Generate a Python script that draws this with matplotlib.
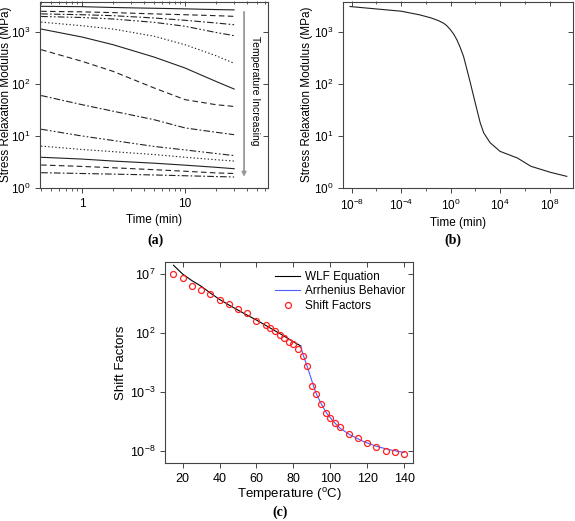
import numpy as np
import matplotlib
matplotlib.use("Agg")
import matplotlib.pyplot as plt
from matplotlib.ticker import LogLocator, NullLocator, FixedLocator, NullFormatter, FixedFormatter

plt.rcParams['font.family'] = ['Liberation Sans', 'DejaVu Sans']
plt.rcParams['mathtext.fontset'] = 'custom'
plt.rcParams['mathtext.rm'] = 'Liberation Sans'
plt.rcParams['mathtext.it'] = 'Liberation Sans'

# ---------------- Panel (a) data ----------------
time_a = [0.4, 1, 2, 5, 10, 20, 30]
modulus_curves = [
    [3120, 3070, 2960, 2860, 2790, 2700, 2660],
    [2500, 2440, 2360, 2230, 2150, 2060, 2000],
    [2230, 2150, 2060, 1860, 1680, 1490, 1380],
    [1990, 1900, 1780, 1535, 1290, 980, 850],
    [1550, 1320, 1140, 830, 570, 350, 250],
    [1140, 800, 570, 330, 203, 112, 80],
    [457, 273, 175, 84, 50, 40, 37],
    [60, 40, 30, 20.6, 14.3, 11.8, 10.6],
    [13.5, 10, 8.2, 6.3, 5.4, 4.6, 4.2],
    [6.4, 5.5, 5.0, 4.4, 3.9, 3.5, 3.3],
    [3.9, 3.6, 3.3, 3.0, 2.75, 2.5, 2.35],
    [2.77, 2.6, 2.45, 2.25, 2.1, 1.95, 1.9],
    [1.97, 1.9, 1.85, 1.78, 1.72, 1.66, 1.63],
]
line_styles = ['-', (0, (5, 3)), (0, (6, 2, 1.5, 2)), (0, (6, 2, 1.5, 2, 1.5, 2)), (0, (1.2, 2))]

# ---------------- Panel (b) data (master curve) ----------------
log_time_b = [-8.14, -4.0, -2.5, -1.57, -1.0, -0.57, -0.3, 0.0, 0.25, 0.51, 0.75, 1.05, 1.3, 1.6, 2.0,
              2.4, 2.68, 3.2, 4.0, 5.4, 6.5, 8.1, 9.4]
log_mod_b = [3.49, 3.40, 3.33, 3.27, 3.22, 3.17, 3.12, 3.04, 2.96, 2.85, 2.72, 2.53, 2.3, 2.02, 1.63,
             1.25, 1.06, 0.87, 0.705, 0.577, 0.417, 0.30, 0.224]

# ---------------- Panel (c) data ----------------
temp_sf = [15, 20, 25, 30, 35, 40, 45, 50, 55, 60, 65, 67.5, 70, 72.5, 75, 77.5, 80, 82.5,
           85, 87.5, 90, 92.5, 95, 97.5, 100, 102.5, 105, 110, 115, 120, 125, 130, 135, 140]
log_sf = [7.0, 6.6, 5.99, 5.65, 5.29, 4.75, 4.44, 4.0, 3.63, 3.01, 2.62, 2.37, 2.17, 1.83, 1.52, 1.21, 1.02, 0.62,
          0.0, -0.78, -2.47, -3.17, -3.98, -4.74, -5.19, -5.64, -5.92, -6.51, -6.93, -7.33, -7.69, -8.0, -8.06, -8.22]
temp_wlf = [15, 20, 25, 30, 35, 40, 45, 50, 55, 60, 65, 70, 75, 80, 84]
log_wlf = [7.7, 6.95, 6.4, 5.93, 5.35, 4.81, 4.35, 3.91, 3.48, 3.07, 2.62, 2.17, 1.71, 1.24, 0.88]
temp_arr = [84, 85, 87.2, 89.3, 91, 92.7, 95.4, 98.1, 101.7, 105.3, 110.7, 118, 125.2, 132.4, 140]
log_arr = [0.88, 0.26, -0.72, -1.71, -2.55, -3.25, -4.1, -4.8, -5.5, -6.06, -6.62, -7.19, -7.6, -7.89, -8.11]

W, H = 575, 521
fig = plt.figure(figsize=(W / 100, H / 100), dpi=100)

spine_col = '#444444'
tick_fs = 8.5
label_fs = 8.5


def style_axes(ax):
    for s in ax.spines.values():
        s.set_color(spine_col)
        s.set_linewidth(0.8)
    ax.tick_params(which='both', direction='out', colors=spine_col, labelcolor='black',
                   labelsize=tick_fs, top=False, right=False)
    ax.tick_params(which='major', length=3.5, width=0.7)
    ax.tick_params(which='minor', length=2, width=0.6)
    sec_x = ax.secondary_xaxis('top')
    sec_y = ax.secondary_yaxis('right')
    return sec_x, sec_y


def mirror_ticks(ax, sec_x, sec_y):
    for sec in (sec_x, sec_y):
        sec.tick_params(which='both', direction='in', colors=spine_col)
        sec.tick_params(which='major', length=3.5, width=0.7)
        sec.tick_params(which='minor', length=2, width=0.6)
        sec.spines[:].set_visible(False)
    sec_x.set_xticks(ax.get_xticks(minor=False))
    sec_x.set_xticks(ax.get_xticks(minor=True), minor=True)
    sec_x.set_xticklabels([])
    sec_x.xaxis.set_minor_formatter(NullFormatter())
    sec_y.set_yticks(ax.get_yticks(minor=False))
    sec_y.set_yticklabels([])
    sec_y.yaxis.set_minor_locator(NullLocator())


# ---- (a)
ax_a = fig.add_axes([40 / W, 1 - 188 / H, 228 / W, 186.5 / H])
for i, vals in enumerate(modulus_curves):
    ax_a.plot(time_a, vals, color='#222222', lw=0.8, linestyle=line_styles[i % 5])
ax_a.set_xscale('log')
ax_a.set_yscale('log')
ax_a.set_xlim(0.39, 64)
ax_a.set_ylim(1, 3860)
ax_a.xaxis.set_major_locator(FixedLocator([1, 10]))
ax_a.xaxis.set_major_formatter(FixedFormatter(['1', '10']))
ax_a.xaxis.set_minor_locator(LogLocator(base=10, subs=np.arange(2, 10)))
ax_a.xaxis.set_minor_formatter(NullFormatter())
ax_a.yaxis.set_major_locator(FixedLocator([1, 10, 100, 1000]))
ax_a.yaxis.set_major_formatter(FixedFormatter(
    [r'$10^{0}$', r'$10^{1}$', r'$10^{2}$', r'$10^{3}$']))
ax_a.yaxis.set_minor_locator(NullLocator())
sx, sy = style_axes(ax_a)
mirror_ticks(ax_a, sx, sy)
ax_a.set_xlabel('Time (min)', fontsize=label_fs, labelpad=3)
ax_a.set_ylabel('Stress Relaxation Modulus (MPa)', fontsize=label_fs)
ax_a.yaxis.set_label_coords(-0.122, 0.5)
ax_a.annotate('', xy=(0.895, 0.06), xytext=(0.895, 0.945), xycoords='axes fraction',
              arrowprops=dict(arrowstyle='-|>', color='#999999', lw=1.3,
                              mutation_scale=6, shrinkA=0, shrinkB=0))
ax_a.text(0.945, 0.52, 'Temperature Increasing', transform=ax_a.transAxes, rotation=-90,
          ha='center', va='center', fontsize=7.5)

# ---- (b)
ax_b = fig.add_axes([343 / W, 1 - 188 / H, 230 / W, 186.5 / H])
ax_b.plot([10 ** v for v in log_time_b], [10 ** v for v in log_mod_b], color='#222222', lw=0.8)
ax_b.set_xscale('log')
ax_b.set_yscale('log')
ax_b.set_xlim(10 ** -8.7, 10 ** 9.9)
ax_b.set_ylim(1, 3860)
ax_b.xaxis.set_major_locator(FixedLocator([1e-8, 1e-4, 1, 1e4, 1e8]))
ax_b.xaxis.set_major_formatter(FixedFormatter(
    [r'$10^{-8}$', r'$10^{-4}$', r'$10^{0}$', r'$10^{4}$', r'$10^{8}$']))
ax_b.xaxis.set_minor_locator(FixedLocator([1e-6, 1e-2, 1e2, 1e6]))
ax_b.xaxis.set_minor_formatter(NullFormatter())
ax_b.yaxis.set_major_locator(FixedLocator([1, 10, 100, 1000]))
ax_b.yaxis.set_major_formatter(FixedFormatter(
    [r'$10^{0}$', r'$10^{1}$', r'$10^{2}$', r'$10^{3}$']))
ax_b.yaxis.set_minor_locator(NullLocator())
sx, sy = style_axes(ax_b)
mirror_ticks(ax_b, sx, sy)
ax_b.set_xlabel('Time (min)', fontsize=label_fs, labelpad=3)
ax_b.set_ylabel('Stress Relaxation Modulus (MPa)', fontsize=label_fs)
ax_b.yaxis.set_label_coords(-0.13, 0.5)

# ---- (c)
ax_c = fig.add_axes([165 / W, 1 - 463 / H, 248.3 / W, 201.3 / H])
ax_c.plot(temp_wlf, [10 ** v for v in log_wlf], color='black', lw=0.8, label='WLF Equation')
ax_c.plot(temp_arr, [10 ** v for v in log_arr], color='#4d5cff', lw=0.8, label='Arrhenius Behavior')
ax_c.plot(temp_sf, [10 ** v for v in log_sf], linestyle='none', marker='o', markersize=4.3,
          markerfacecolor='none', markeredgecolor='#ff2020', markeredgewidth=0.9, label='Shift Factors')
ax_c.set_yscale('log')
ax_c.set_xlim(10.4, 145)
ax_c.set_ylim(1e-9, 1e8)
ax_c.xaxis.set_major_locator(FixedLocator([20, 40, 60, 80, 100, 120, 140]))
ax_c.yaxis.set_major_locator(FixedLocator([1e-8, 1e-3, 1e2, 1e7]))
ax_c.yaxis.set_major_formatter(FixedFormatter(
    [r'$10^{-8}$', r'$10^{-3}$', r'$10^{2}$', r'$10^{7}$']))
ax_c.yaxis.set_minor_locator(NullLocator())
ax_c.xaxis.set_minor_locator(NullLocator())
sx, sy = style_axes(ax_c)
ax_c.tick_params(labelsize=9)
mirror_ticks(ax_c, sx, sy)
ax_c.set_xlabel(r'Temperature ($^{\mathrm{o}}$C)', fontsize=9.5, labelpad=1)
ax_c.set_ylabel('Shift Factors', fontsize=9.5, labelpad=2)
ax_c.legend(loc='upper right', frameon=False, fontsize=8.5, handlelength=2.1,
            handletextpad=0.4, labelspacing=0.2, borderaxespad=0.3,
            bbox_to_anchor=(1.0, 0.995))

# captions
cap_kw = dict(fontsize=10, fontweight='bold', family='Liberation Serif', ha='center', va='center')
fig.text(155 / W, 1 - 240 / H, '(a)', **cap_kw)
fig.text(453 / W, 1 - 240 / H, '(b)', **cap_kw)
fig.text(280 / W, 1 - 512 / H, '(c)', **cap_kw)

fig.savefig('out.png', dpi=100)
